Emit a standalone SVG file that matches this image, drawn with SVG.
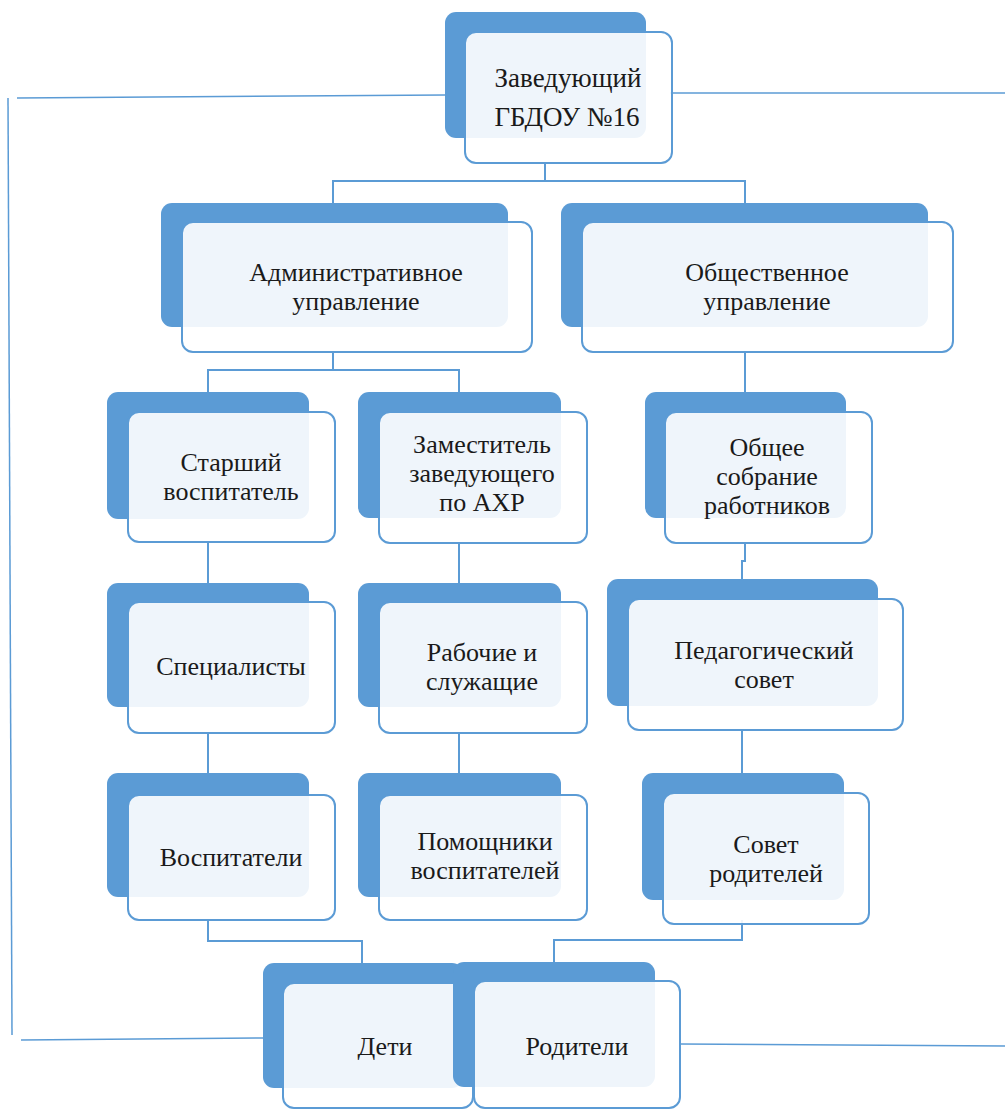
<svg xmlns="http://www.w3.org/2000/svg" width="1005" height="1110" viewBox="0 0 1005 1110">
<style>
.bk{fill:#5B9BD5;}
.fr{fill:#ffffff;fill-opacity:0.9;stroke:#5B9BD5;stroke-width:2;}
.t{font-family:"Liberation Serif","Times New Roman",serif;font-size:26px;fill:#1a1a1a;text-anchor:middle;}
.tb{font-size:27px;}
.c{fill:none;stroke:#5B9BD5;stroke-width:2;}
.f{fill:none;stroke:#5B9BD5;stroke-width:1.5;}
</style>
<rect width="1005" height="1110" fill="#ffffff"/>
<g id="frame">
<line class="f" x1="8" y1="98" x2="12" y2="1035"/>
<line class="f" x1="17" y1="98" x2="445" y2="95"/>
<line class="f" x1="670" y1="93" x2="1005" y2="93"/>
<line class="f" x1="21" y1="1040" x2="263" y2="1038"/>
<line class="f" x1="680" y1="1044" x2="1005" y2="1046"/>
</g>
<g id="connectors">
<path class="c" d="M545 163 V181 M333 203 V181 H745 V203"/>
<path class="c" d="M333 352 V370 M208 392 V370 H459 V392"/>
<path class="c" d="M745 352 V392"/>
<path class="c" d="M208 542 V583"/>
<path class="c" d="M459 542 V583"/>
<path class="c" d="M745 542 V561 H742 V579"/>
<path class="c" d="M208 733 V773"/>
<path class="c" d="M459 733 V773"/>
<path class="c" d="M742 730 V773"/>
<path class="c" d="M208 920 V941 H362 V963"/>
<path class="c" d="M742 920 V940 H554 V962"/>
</g>
<g id="n1">
<rect class="bk" x="445" y="12" width="201" height="126" rx="11"/>
<rect class="fr" x="465" y="32" width="207" height="131" rx="11"/>
<text class="t tb" x="568" y="87">Заведующий</text>
<text class="t tb" x="567" y="126">ГБДОУ №16</text>
</g>
<g id="n2">
<rect class="bk" x="161" y="203" width="347" height="124" rx="11"/>
<rect class="fr" x="182" y="222" width="350" height="130" rx="11"/>
<text class="t" x="356" y="281">Административное</text>
<text class="t" x="356" y="310">управление</text>
</g>
<g id="n3">
<rect class="bk" x="561" y="203" width="367" height="124" rx="11"/>
<rect class="fr" x="582" y="222" width="371" height="130" rx="11"/>
<text class="t" x="767" y="281">Общественное</text>
<text class="t" x="767" y="310">управление</text>
</g>
<g id="n4">
<rect class="bk" x="107" y="392" width="202" height="127" rx="11"/>
<rect class="fr" x="128" y="412" width="207" height="130" rx="11"/>
<text class="t" x="231" y="471">Старший</text>
<text class="t" x="231" y="500">воспитатель</text>
</g>
<g id="n5">
<rect class="bk" x="358" y="392" width="203" height="126" rx="11"/>
<rect class="fr" x="379" y="412" width="208" height="131" rx="11"/>
<text class="t" x="482" y="453">Заместитель</text>
<text class="t" x="482" y="482">заведующего</text>
<text class="t" x="482" y="511">по АХР</text>
</g>
<g id="n6">
<rect class="bk" x="645" y="392" width="201" height="126" rx="11"/>
<rect class="fr" x="665" y="412" width="207" height="131" rx="11"/>
<text class="t" x="767" y="456">Общее</text>
<text class="t" x="767" y="485">собрание</text>
<text class="t" x="767" y="514">работников</text>
</g>
<g id="n7">
<rect class="bk" x="107" y="583" width="202" height="124" rx="11"/>
<rect class="fr" x="128" y="602" width="207" height="131" rx="11"/>
<text class="t" x="231" y="675">Специалисты</text>
</g>
<g id="n8">
<rect class="bk" x="358" y="583" width="203" height="124" rx="11"/>
<rect class="fr" x="379" y="602" width="208" height="131" rx="11"/>
<text class="t" x="482" y="661">Рабочие и</text>
<text class="t" x="482" y="690">служащие</text>
</g>
<g id="n9">
<rect class="bk" x="607" y="579" width="271" height="127" rx="11"/>
<rect class="fr" x="628" y="599" width="275" height="131" rx="11"/>
<text class="t" x="764" y="659">Педагогический</text>
<text class="t" x="764" y="688">совет</text>
</g>
<g id="n10">
<rect class="bk" x="107" y="773" width="202" height="124" rx="11"/>
<rect class="fr" x="128" y="795" width="207" height="125" rx="11"/>
<text class="t" x="231" y="866">Воспитатели</text>
</g>
<g id="n11">
<rect class="bk" x="358" y="773" width="203" height="124" rx="11"/>
<rect class="fr" x="379" y="795" width="208" height="125" rx="11"/>
<text class="t" x="485" y="850">Помощники</text>
<text class="t" x="485" y="879">воспитателей</text>
</g>
<g id="n12">
<rect class="bk" x="642" y="773" width="202" height="127" rx="11"/>
<rect class="fr" x="663" y="793" width="206" height="131" rx="11"/>
<text class="t" x="766" y="853">Совет</text>
<text class="t" x="766" y="882">родителей</text>
</g>
<g id="n13">
<rect class="bk" x="263" y="963" width="200" height="125" rx="11"/>
<rect class="fr" x="283" y="983" width="190" height="125" rx="11"/>
<text class="t" x="385" y="1055">Дети</text>
</g>
<g id="n14">
<rect class="bk" x="453" y="962" width="202" height="125" rx="11"/>
<rect class="fr" x="474" y="981" width="206" height="127" rx="11"/>
<text class="t" x="577" y="1055">Родители</text>
</g>
</svg>
